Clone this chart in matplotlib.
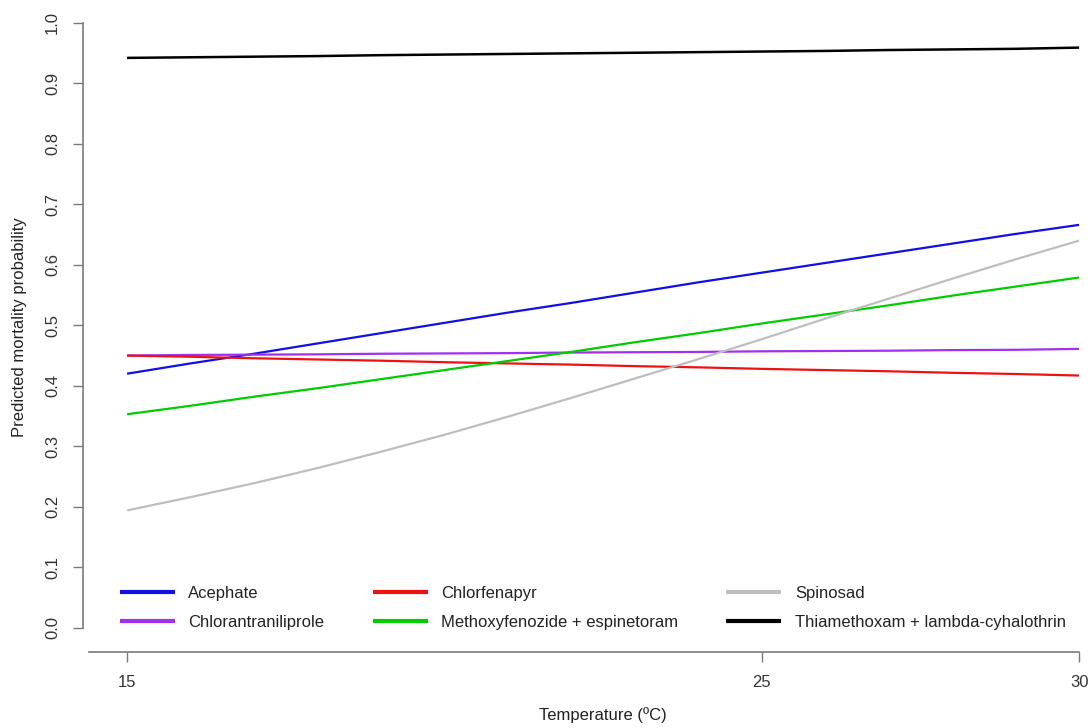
import matplotlib
matplotlib.use("Agg")
import matplotlib.pyplot as plt
import numpy as np

plt.rcParams['font.family'] = ['Liberation Sans', 'DejaVu Sans']

temperature = [15, 16, 17, 18, 19, 20, 21, 22, 23, 24, 25, 26, 27, 28, 29, 30]
series_names = ["Acephate", "Chlorantraniliprole", "Chlorfenapyr",
                "Methoxyfenozide + espinetoram", "Spinosad",
                "Thiamethoxam + lambda-cyhalothrin"]
acephate = [0.420, 0.437, 0.453, 0.470, 0.487, 0.504, 0.521, 0.537,
            0.554, 0.571, 0.587, 0.603, 0.619, 0.635, 0.651, 0.666]
chlorantraniliprole = [0.450, 0.451, 0.4515, 0.452, 0.453, 0.4535, 0.454, 0.455,
                       0.4555, 0.456, 0.457, 0.4575, 0.458, 0.459, 0.4595, 0.461]
chlorfenapyr = [0.450, 0.448, 0.4455, 0.4435, 0.4415, 0.439, 0.437, 0.435,
                0.4325, 0.4305, 0.428, 0.426, 0.424, 0.4215, 0.4195, 0.417]
methoxyfenozide = [0.353, 0.367, 0.382, 0.396, 0.411, 0.426, 0.441, 0.456,
                   0.472, 0.487, 0.503, 0.518, 0.533, 0.549, 0.564, 0.579]
spinosad = [0.194, 0.216, 0.239, 0.264, 0.291, 0.319, 0.349, 0.380,
            0.412, 0.444, 0.477, 0.511, 0.544, 0.577, 0.609, 0.640]
thiamethoxam = [0.942, 0.943, 0.944, 0.945, 0.9465, 0.9475, 0.9485, 0.9495,
                0.9505, 0.9515, 0.9525, 0.9535, 0.955, 0.956, 0.957, 0.959]
series_values = [acephate, chlorantraniliprole, chlorfenapyr,
                 methoxyfenozide, spinosad, thiamethoxam]
series_colors = ["#1010e6", "#a030f0", "#ee1111", "#00cc00", "#bebebe", "#000000"]

x_ticks = [15, 25, 30]
y_ticks = [0.0, 0.1, 0.2, 0.3, 0.4, 0.5, 0.6, 0.7, 0.8, 0.9, 1.0]

W, H = 1091, 728
fig = plt.figure(figsize=(W / 100, H / 100), dpi=100)
left_px, right_px = 89, 1089
bottom_px, top_px = 652, 0
ax = fig.add_axes([left_px / W, 1 - bottom_px / H, (right_px - left_px) / W, (bottom_px - top_px) / H])
x0 = 14.4
scale_x = (1079 - 127) / 15.0
x1 = x0 + (right_px - left_px) / scale_x
ax.set_xlim(x0, x1)
y0 = -0.04
scale_y = 605.0
y1 = y0 + (bottom_px - top_px) / scale_y
ax.set_ylim(y0, y1)

lines = []
for name, vals, col in zip(series_names, series_values, series_colors):
    lw = 1.8 if col == "#000000" else 1.6
    ln, = ax.plot(temperature, vals, color=col, lw=lw, label=name, solid_capstyle='butt')
    lines.append(ln)

spine_col = "#7a7a7a"
for s in ['top', 'right']:
    ax.spines[s].set_visible(False)
ax.spines['left'].set_position(('outward', 4.3))
ax.spines['left'].set_bounds(0, 1)
ax.spines['bottom'].set_bounds(x0, 30)
for s in ['left', 'bottom']:
    ax.spines[s].set_color(spine_col)
    ax.spines[s].set_linewidth(1.2)

ax.set_xticks(x_ticks)
ax.set_xticklabels([str(t) for t in x_ticks])
ax.set_yticks(y_ticks)
ax.set_yticklabels([f"{t:.1f}" for t in y_ticks], rotation=90, va='center')
ax.tick_params(axis='both', direction='out', length=7.5, width=1.0, color=spine_col,
               labelsize=12, labelcolor="#333333")
ax.tick_params(axis='x', pad=9)
ax.tick_params(axis='y', pad=9)

fig.text(603 / W, 1 - 715 / H, "Temperature (ºC)", ha='center', va='center', fontsize=12, color="#222222")
fig.text(20 / W, 1 - 327 / H, "Predicted mortality probability", ha='center', va='center',
         rotation=90, fontsize=12, color="#222222")

leg = ax.legend(handles=lines, ncol=3, frameon=False, fontsize=12,
                loc='upper left', bbox_to_anchor=(120 / W, 1 - 586 / H),
                bbox_transform=fig.transFigure, borderpad=0, borderaxespad=0,
                handlelength=3.3, handletextpad=0.8, columnspacing=2.9,
                labelspacing=0.85)
for h in leg.legend_handles:
    h.set_linewidth(3.0)
for t in leg.get_texts():
    t.set_color("#222222")

fig.savefig("out.png", dpi=100)
